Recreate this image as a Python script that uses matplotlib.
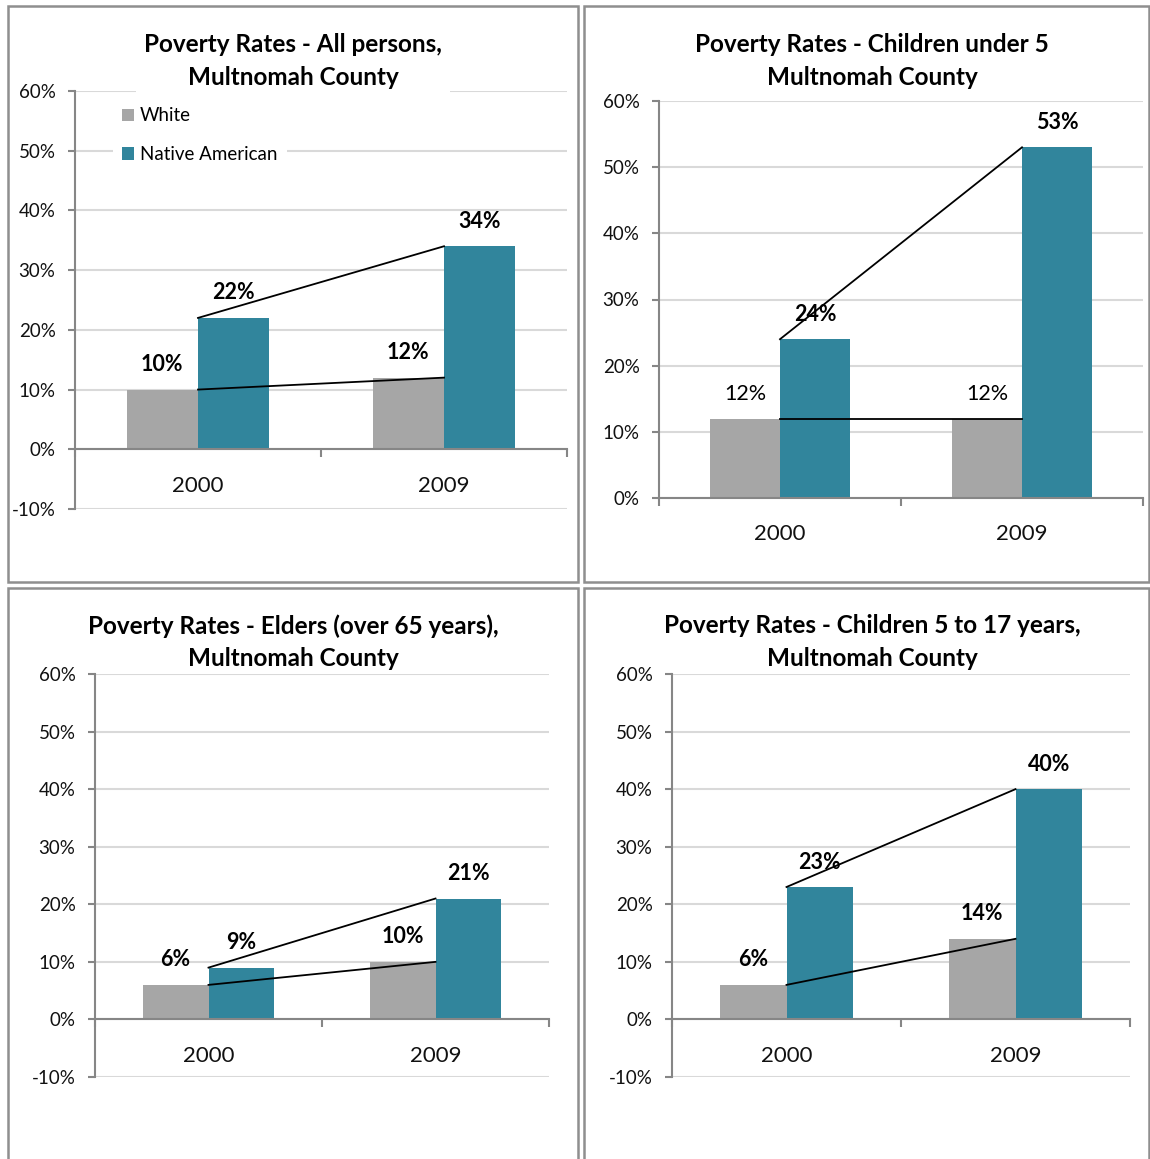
import numpy as np
import matplotlib
matplotlib.use('Agg')
import matplotlib.pyplot as plt
from matplotlib.patches import Rectangle
from matplotlib.ticker import FixedLocator, PercentFormatter

# Data ------------------------------------------------------------------------
years = ['2000', '2009']
series_names = ['White', 'Native American']

white_all = [0.10, 0.12]
native_all = [0.22, 0.34]

white_under5 = [0.12, 0.12]
native_under5 = [0.24, 0.53]

white_elders = [0.06, 0.10]
native_elders = [0.09, 0.21]

white_5to17 = [0.06, 0.14]
native_5to17 = [0.23, 0.40]

titles = ['Poverty Rates - All persons,\nMultnomah County',
          'Poverty Rates - Children under 5\nMultnomah County',
          'Poverty Rates - Elders (over 65 years),\nMultnomah County',
          'Poverty Rates - Children 5 to 17 years,\nMultnomah County']

# Style -----------------------------------------------------------------------
W, H = 1150, 1159
gray = '#A6A6A6'
teal = '#31859C'
grid_col = '#D9D9D9'
axis_col = '#868686'
plt.rcParams['font.family'] = ['Lato', 'DejaVu Sans']
plt.rcParams['axes.unicode_minus'] = False

fig = plt.figure(figsize=(W / 100, H / 100), dpi=100)


def px_rect(x0, y0, x1, y1):
    """Pixel box (top-left origin) -> figure fraction rect."""
    return [x0 / W, 1 - y1 / H, (x1 - x0) / W, (y1 - y0) / H]


def panel(box, ax_box, title, title_xy, white, native, ymin,
          bold_white=True, bold_native=True, legend=False, title_box=False):
    # outer frame of the panel
    fig.patches.append(Rectangle((box[0] / W, 1 - box[3] / H),
                                 (box[2] - box[0]) / W, (box[3] - box[1]) / H,
                                 transform=fig.transFigure, fill=False,
                                 edgecolor='#8F8F8F', lw=1.8, zorder=0))

    ax = fig.add_axes(px_rect(*ax_box))
    x = np.arange(len(years))
    w = 0.29
    ax.bar(x - w / 2, white, w, color=gray, label=series_names[0], zorder=2)
    ax.bar(x + w / 2, native, w, color=teal, label=series_names[1], zorder=2)

    # connecting lines between the two years
    ax.plot(x, native, color='black', lw=1.3, zorder=3)
    ax.plot(x, white, color='black', lw=1.3, zorder=3)

    for xi, v in zip(x, white):
        ax.annotate('%d%%' % round(v * 100), (xi - w / 2, v), xytext=(0, 18),
                    textcoords='offset points', ha='center', va='center',
                    fontsize=15.5,
                    fontweight='bold' if bold_white else 'normal', zorder=4)
    for xi, v in zip(x, native):
        ax.annotate('%d%%' % round(v * 100), (xi + w / 2, v), xytext=(0, 18),
                    textcoords='offset points', ha='center', va='center',
                    fontsize=15.5,
                    fontweight='bold' if bold_native else 'normal', zorder=4)

    ax.set_xlim(-0.5, len(years) - 0.5)
    ax.set_ylim(ymin, 0.6)
    ax.set_yticks(np.arange(ymin, 0.61, 0.1))
    ax.yaxis.set_major_formatter(PercentFormatter(1.0, decimals=0))
    ax.yaxis.grid(True, color=grid_col, lw=1.5)
    ax.set_axisbelow(True)

    for s in ['top', 'right']:
        ax.spines[s].set_visible(False)
    ax.spines['left'].set_color(axis_col)
    ax.spines['left'].set_linewidth(1.5)
    ax.spines['bottom'].set_position(('data', 0))
    ax.spines['bottom'].set_color(axis_col)
    ax.spines['bottom'].set_linewidth(1.5)
    ax.spines['bottom'].set_zorder(2.5)

    # tick marks on category boundaries, labels on category centres
    ax.xaxis.set_major_locator(FixedLocator(np.arange(-0.5, len(years), 1.0)))
    ax.xaxis.set_major_formatter(plt.NullFormatter())
    ax.xaxis.set_minor_locator(FixedLocator(x))
    ax.set_xticklabels(years, minor=True)
    ax.tick_params(axis='x', which='major', length=6, width=1.5,
                   color=axis_col, direction='out')
    ax.tick_params(axis='x', which='minor', length=0, pad=19,
                   labelsize=16, labelcolor='#111111')
    ax.tick_params(axis='y', length=5, width=1.5, color=axis_col, pad=9,
                   labelsize=13.5, labelcolor='#111111')
    ax.patch.set_alpha(0)

    if legend:
        leg = ax.legend(loc='upper left', bbox_to_anchor=(0.077, 0.983),
                        fontsize=13.5, frameon=True, fancybox=False,
                        handlelength=0.65, handleheight=0.65,
                        handletextpad=0.3, labelspacing=1.15,
                        borderpad=0.5, borderaxespad=0)
        leg.get_frame().set_facecolor('white')
        leg.get_frame().set_edgecolor('none')
        leg.get_frame().set_alpha(1)

    bbox = None
    if title_box:
        bbox = dict(facecolor='white', edgecolor='none', pad=6)
    fig.text(title_xy[0] / W, 1 - title_xy[1] / H, title, ha='center',
             va='center', fontsize=17.5, fontweight='bold', linespacing=1.5,
             bbox=bbox, zorder=5)
    return ax


# Panels ----------------------------------------------------------------------
panel((8, 6, 578, 582), (75, 91, 567, 509), titles[0], (293, 61),
      white_all, native_all, -0.1, legend=True, title_box=True)
panel((584, 6, 1149, 582), (659, 101, 1143, 498), titles[1], (872, 61),
      white_under5, native_under5, 0.0, bold_white=False)
panel((8, 588, 578, 1162), (95, 674, 549, 1077), titles[2], (293, 642),
      white_elders, native_elders, -0.1)
panel((584, 588, 1149, 1162), (672, 674, 1130, 1077), titles[3], (872, 642),
      white_5to17, native_5to17, -0.1)

plt.savefig('out.png', dpi=100)
